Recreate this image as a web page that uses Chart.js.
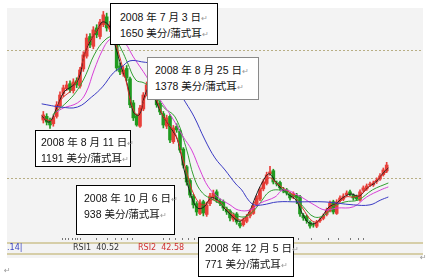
<!DOCTYPE html>
<html>
<head>
<meta charset="utf-8">
<script src="https://cdn.jsdelivr.net/npm/chart.js@4.4.1/dist/chart.umd.min.js"></script>
<style>
  body { margin: 0; background: #fff; }
  #wrap { position: relative; width: 428px; height: 277px; overflow: hidden; }
  #chart { position: absolute; left: 0; top: 0; }
  .note { position: absolute; background: #fff; border: 1px solid #000; box-sizing: border-box;
          font: 10.5px/15px "Liberation Sans", "Noto Sans CJK SC", sans-serif; color: #111; white-space: nowrap; }
  .note .r { color: #9a9a9a; font-size: 8px; }
  .lbl { position: absolute; font: 8px/10px "DejaVu Sans", sans-serif; white-space: pre; }
</style>
</head>
<body>
<div id="wrap">
  <canvas id="chart" width="428" height="277"></canvas>

  <div class="note" style="left:110px;top:3px;width:108px;height:42px;padding:6px 0 0 9px;">2008 年 7 月 3 日<span class="r">↵</span><br>1650 美分/蒲式耳<span class="r">↵</span></div>
  <div class="note" style="left:147px;top:57px;width:112px;height:43px;padding:5px 0 0 7px;border-color:#8a8a8a;">2008 年 8 月 25 日<span class="r">↵</span><br>1378 美分/蒲式耳<span class="r">↵</span></div>
  <div class="note" style="left:35px;top:130px;width:96px;height:37px;padding:4px 0 0 5px;">2008 年 8 月 11 日<span class="r">↵</span><br>1191 美分/蒲式耳<span class="r">↵</span></div>
  <div class="note" style="left:76px;top:185px;width:99px;height:50px;padding:5px 0 0 7px;">2008 年 10 月 6 日<span class="r">↵</span><br>938 美分/蒲式耳<span class="r">↵</span></div>
  <div class="note" style="left:198px;top:237px;width:96px;height:40px;padding:3px 0 0 6px;">2008 年 12 月 5 日<span class="r">↵</span><br>771 美分/蒲式耳<span class="r">↵</span></div>

  <div class="lbl" style="left:7px;top:243px;color:#3a44c0;">.14|</div>
  <div class="lbl" style="left:73px;top:243px;color:#333;">RSI1  40.52</div>
  <div class="lbl" style="left:138px;top:243px;color:#d03030;">RSI2  42.58</div>
  <div class="lbl" style="left:4px;top:266px;color:#999;">↵</div>
  <div class="lbl" style="left:420px;top:253px;color:#999;">↵</div>
</div>

<script>
//Candles (cents per bushel), one per bar position
const opens = [1210,1225,1208,1195,1225,1268,1318,1338,1358,1330,
  1370,1348,1418,1470,1550,1510,1585,1550,1600,1630,
  1580,1600,1530,1430,1398,1420,1378,1280,1228,1185,
  1255,1318,1345,1370,1328,1278,1236,1185,1225,1122,
  1184,1166,1092,1020,964,900,870,830,878,826,
  870,896,918,880,878,846,840,806,828,790,
  784,798,820,830,866,888,930,952,992,1004,
  952,956,928,926,908,898,904,898,822,818,
  795,784,778,800,810,826,840,878,830,882,
  888,906,918,904,898,884,924,930,946,946,
  960,970,988,1003];
const closes = [1231,1202,1190,1219,1272,1312,1341,1353,1333,1365,
  1353,1414,1475,1544,1516,1577,1557,1609,1638,1585,
  1597,1536,1422,1406,1414,1382,1272,1219,1190,1259,
  1312,1353,1365,1333,1272,1243,1190,1219,1129,1178,
  1170,1088,1027,958,905,865,836,873,832,865,
  901,913,885,873,852,836,812,824,795,779,
  804,816,836,861,893,926,958,987,999,958,
  950,934,922,913,893,909,893,828,812,800,
  779,783,795,804,820,844,873,836,877,893,
  901,913,909,893,889,918,934,942,950,954,
  966,983,1007,1027];
const highs = [1245,1236,1218,1228,1285,1325,1352,1368,1370,1378,
  1382,1425,1488,1560,1562,1590,1598,1620,1652,1645,
  1612,1610,1540,1442,1428,1432,1385,1290,1235,1270,
  1322,1365,1380,1378,1335,1288,1245,1230,1232,1188,
  1195,1172,1098,1026,972,908,878,885,884,876,
  912,925,926,890,885,856,846,832,834,798,
  812,826,845,870,902,935,968,998,1022,1010,
  962,962,936,932,915,918,912,904,830,824,
  800,792,802,812,828,852,880,884,886,902,
  910,922,925,910,905,926,942,950,958,962,
  975,992,1015,1038];
const lows = [1198,1190,1176,1185,1218,1260,1305,1330,1322,1320,
  1342,1340,1408,1462,1505,1500,1545,1540,1590,1572,
  1570,1525,1410,1395,1388,1370,1260,1208,1185,1180,
  1248,1308,1335,1322,1262,1232,1178,1175,1118,1115,
  1160,1078,1015,945,895,852,822,825,820,818,
  862,888,875,862,842,826,800,798,786,771,
  778,792,812,826,860,882,922,946,985,950,
  942,926,914,905,884,890,870,818,802,790,
  770,774,772,794,804,820,836,828,826,876,
  882,900,902,884,882,880,918,924,940,940,
  952,964,982,996];

//Moving averages: [bar position, value]
const ma5 = [[-0.5,1227],[1.75,1202],[3.75,1251],[6.25,1325],[8.75,1349],[10.75,1382],[12.25,1475],[14.25,1536],
  [16.25,1577],[17.75,1609],[19.75,1593],[21.5,1516],[23.5,1422],[25.25,1353],[27,1243],[28.75,1231],
  [30.5,1312],[32.25,1349],[34.25,1272],[36.25,1219],[38.25,1178],[40.25,1129],[42.25,1007],[44.25,905],
  [46.25,852],[48.25,857],[50.25,893],[52.25,885],[54.25,852],[56.25,824],[58.25,800],[59.75,804],
  [61.75,836],[63.75,901],[65.75,958],[67.75,991],[69.75,958],[71.75,926],[73.75,905],[75.75,885],
  [77.75,828],[79.75,791],[81.75,791],[83.75,820],[85.75,857],[87.75,869],[89.75,893],[92.25,909],
  [94.75,901],[97.25,934],[99.75,958],[101.75,991],[103.5,1015]];
const ma10 = [[-0.5,1219],[2.75,1211],[5.25,1292],[9,1341],[11.5,1434],[13.25,1516],[15.25,1557],[17.25,1597],
  [19,1597],[20.75,1557],[22.75,1475],[24.75,1373],[26.5,1272],[28.25,1231],[30.25,1292],[32,1341],
  [34,1292],[35.75,1231],[37.75,1190],[39.75,1150],[41.5,1068],[43.25,987],[45.25,905],[47.75,865],
  [50.25,885],[52.75,877],[55.25,844],[57.75,812],[59.75,804],[61.75,832],[63.75,885],[65.75,938],
  [67.75,975],[70.25,950],[72.75,926],[75.25,901],[77.75,852],[80.25,804],[82.25,795],[84.25,820],
  [86.25,857],[88.25,869],[90.75,897],[93.25,897],[95.75,913],[98.25,946],[100.75,975],[103.5,1006]];
const ma20 = [[2.75,1231],[7.75,1292],[10.25,1333],[12.75,1394],[15.25,1475],[18.5,1536],[21,1548],[23.5,1495],
  [25.25,1443],[27.75,1373],[30.25,1361],[32.75,1333],[36,1263],[39.5,1223],[42.75,1101],[45.25,975],
  [47.75,913],[51,885],[54.5,857],[57.75,824],[60.25,816],[62.75,836],[65.25,877],[67.75,918],
  [70.5,926],[73,913],[75.5,897],[78,857],[81.25,816],[84.5,824],[87,857],[90.5,877],
  [94.5,885],[98.75,926],[103.5,954]];
const ma30 = [[4,1243],[6,1259],[10.25,1280],[12.75,1320],[15.25,1414],[17.75,1495],[19.75,1536],[22,1548],
  [24.5,1524],[27,1467],[31,1386],[34.5,1304],[38.5,1223],[42,1141],[44.5,1088],[47,1007],
  [49.5,938],[52.75,893],[56,865],[58.5,844],[62,844],[65.25,873],[69.5,897],[72,926],
  [76.25,905],[81.25,865],[84.5,844],[88,852],[93,857],[97,897],[101.25,926],[103.5,938]];
const ma60 = [[-0.5,1276],[5.25,1263],[10.25,1263],[14.5,1304],[17.75,1345],[21,1402],[23.5,1426],[26,1451],
  [29.5,1447],[33.5,1434],[37.75,1382],[40.25,1333],[42.75,1280],[45.25,1223],[48.5,1129],[51.5,1056],
  [54.5,1007],[57.75,950],[59.5,926],[61.5,885],[63.25,865],[65.75,865],[70.25,877],[76.25,877],
  [84.5,877],[93,865],[98,865],[101.25,885],[103.5,897]];

//Dotted reference levels and little ticks under the plot
const refLevels = [1496, 975];
const tickMarks = [5.75,6.5,7.25,8.5,9.5,10.25,11,15.75,19,21.5,23.25,25.25,26.5,36,37.75,39.5,41.5,43.5,
  45.25,47,73.5,76.5,80.25,85.25,88.5,92,94.5,96];

const upColor = "#e8403a";
const downColor = "#1f9a1f";
const candleColors = closes.map((c, i) => (c >= opens[i] ? upColor : downColor));

const bgPlugin = {
  id: "bg",
  beforeDraw(chart) {
    const ctx = chart.ctx;
    ctx.save();
    ctx.fillStyle = "#f3f3f3";
    ctx.fillRect(7, 8, 416, 250);
    ctx.restore();
  },
  beforeDatasetsDraw(chart) {
    const ctx = chart.ctx;
    const y = chart.scales.y;
    ctx.save();
    ctx.strokeStyle = "#b8ae84";
    ctx.lineWidth = 1;
    ctx.setLineDash([2, 2]);
    refLevels.forEach((v) => {
      const py = Math.round(y.getPixelForValue(v)) + 0.5;
      ctx.beginPath();
      ctx.moveTo(7, py);
      ctx.lineTo(423, py);
      ctx.stroke();
    });
    ctx.restore();
  },
  afterDraw(chart) {
    const ctx = chart.ctx;
    const x = chart.scales.x;
    ctx.save();
    //tick marks
    ctx.fillStyle = "#777";
    tickMarks.forEach((t) => {
      ctx.fillRect(Math.round(x.getPixelForValue(t)), 238, 1, 2);
    });
    //indicator strip lines
    ctx.fillStyle = "#d6cea8";
    ctx.fillRect(7, 242, 416, 2);
    ctx.fillRect(7, 253, 416, 2);
    ctx.restore();
  },
};

const lineSet = (pts, color) => ({
  type: "line",
  data: pts.map((p) => ({ x: p[0], y: p[1] })),
  borderColor: color,
  borderWidth: 1,
  pointRadius: 0,
  tension: 0.4,
  order: 1,
});

new Chart(document.getElementById("chart"), {
  type: "bar",
  plugins: [bgPlugin],
  data: {
    datasets: [
      //wicks
      {
        data: highs.map((h, i) => ({ x: i, y: [lows[i], h] })),
        backgroundColor: candleColors,
        barThickness: 1,
        grouped: false,
        order: 3,
      },
      //bodies
      {
        data: opens.map((o, i) => ({ x: i, y: [o, closes[i] === o ? o + 2 : closes[i]] })),
        backgroundColor: candleColors,
        barThickness: 3,
        grouped: false,
        order: 2,
      },
      lineSet(ma60, "#3a3ac4"),
      lineSet(ma30, "#d840d8"),
      lineSet(ma20, "#33a033"),
      lineSet(ma10, "#e0302a"),
      lineSet(ma5, "#1c1c1c"),
    ],
  },
  options: {
    responsive: false,
    animation: false,
    layout: { padding: { left: 7, right: 5, top: 8, bottom: 37 } },
    scales: {
      x: { type: "linear", min: -0.5, max: 103.5, display: false },
      y: { min: 722, max: 1666, display: false },
    },
    plugins: { legend: { display: false }, tooltip: { enabled: false } },
  },
});
</script>
</body>
</html>
